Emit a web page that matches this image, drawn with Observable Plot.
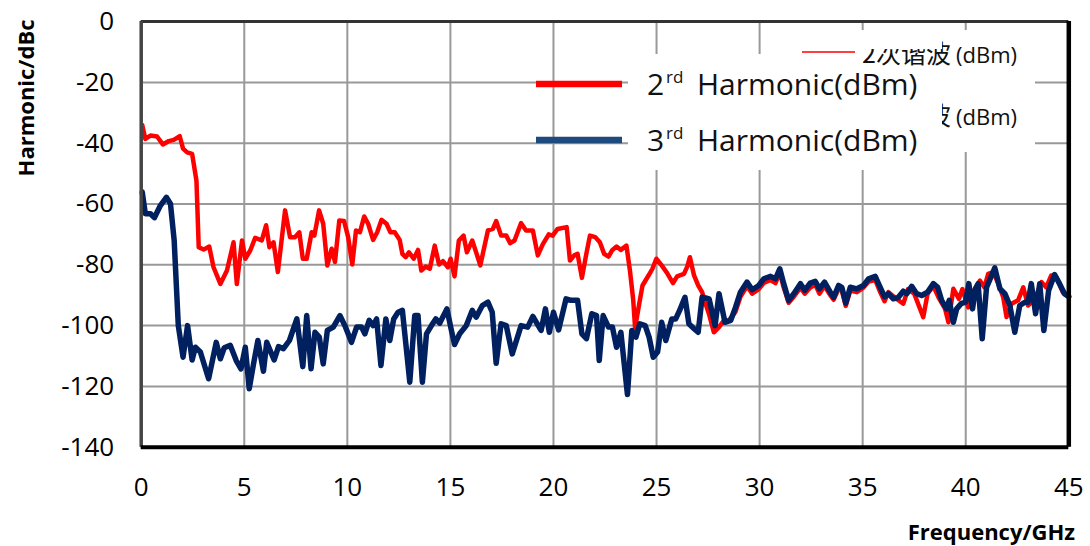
<!DOCTYPE html>
<html>
<head>
<meta charset="utf-8">
<script src="https://cdn.jsdelivr.net/npm/d3@7"></script>
<script src="https://cdn.jsdelivr.net/npm/@observablehq/plot@0.6"></script>
<style>
  html, body { margin: 0; padding: 0; background: #fff; }
  #chart svg { display: block; }
</style>
</head>
<body>
<div id="chart"></div>
<script>
// ---- data ----
const xTicks = [0, 5, 10, 15, 20, 25, 30, 35, 40, 45];
const yTicks = [0, -20, -40, -60, -80, -100, -120, -140];

const freq2 = [0.05,0.2,0.45,0.77,1.05,1.34,1.58,1.87,2.03,2.23,2.47,2.68,2.79,3.03,3.3,3.51,3.84,4.16,4.48,4.64,4.89,5.05,5.29,5.53,5.85,6.06,6.22,6.42,6.63,6.98,7.22,7.46,7.67,7.84,8.03,8.27,8.4,8.63,8.83,9.03,9.24,9.4,9.61,9.84,10.04,10.24,10.42,10.61,10.82,11.01,11.25,11.45,11.66,11.9,12.09,12.3,12.54,12.67,12.83,12.99,13.22,13.43,13.59,13.8,14.0,14.24,14.45,14.64,14.88,15.01,15.2,15.41,15.64,15.8,16.06,16.25,16.45,16.82,17.06,17.22,17.46,17.71,17.9,18.11,18.43,18.67,19.0,19.24,19.48,19.77,19.96,20.2,20.64,20.8,21.01,21.17,21.38,21.58,21.77,22.03,22.25,22.46,22.67,22.86,23.06,23.27,23.54,23.71,23.87,23.96,24.19,24.32,24.64,24.8,24.99,25.25,25.52,25.8,26.0,26.33,26.49,26.62,26.82,27.02,27.21,27.38,27.54,27.78,28.03,28.27,28.51,28.83,29.07,29.39,29.64,29.96,30.2,30.53,30.77,30.98,31.17,31.41,31.66,31.98,32.19,32.46,32.7,32.9,33.15,33.43,33.59,33.83,33.99,34.18,34.4,34.72,35.04,35.29,35.61,35.85,36.06,36.25,36.6,36.97,37.2,37.5,37.94,38.15,38.43,38.7,39.0,39.16,39.4,39.67,39.84,40.12,40.4,40.69,40.9,41.09,41.33,41.58,41.82,41.98,42.22,42.54,42.79,43.02,43.35,43.68,43.9,44.15,44.39,44.71,45.0];
const harm2 = [-34,-38.6,-37.5,-37.8,-40.4,-39.3,-38.9,-37.7,-41.8,-43,-43.5,-52.3,-74.2,-75,-74,-80.8,-86.3,-81.9,-72.6,-86.3,-72,-78,-75.3,-71.1,-72,-67,-74.2,-72.6,-82.4,-62.1,-70.9,-70.9,-69.3,-78,-78,-69.3,-70.4,-62.1,-66.5,-80.2,-74.7,-79.1,-65.4,-65.6,-70.9,-79.9,-68.7,-69.3,-64.1,-66.5,-71.8,-69.3,-65.2,-66.5,-69.3,-69.3,-71.8,-76.4,-77.5,-75.9,-78,-75.1,-81.9,-80.6,-81.3,-73.7,-79.9,-78.8,-80.8,-78,-83.8,-72,-70.4,-75.9,-72,-75.9,-80.2,-68.7,-68.2,-65.6,-70.4,-70.4,-72.9,-72,-66.3,-68.7,-68.7,-76.9,-73.3,-70,-70.4,-68.2,-67.6,-78.6,-76.9,-76.4,-84.3,-76.9,-70.4,-70.9,-72.6,-76.4,-77.3,-75.1,-74,-75.1,-73.7,-81.9,-91.7,-100.7,-91.7,-86.8,-83.2,-81.3,-78,-80.2,-82.8,-86,-83.8,-83,-80.6,-77.5,-83.5,-86.8,-89,-92.8,-96.1,-102.2,-100.5,-98.3,-98.3,-95.5,-90.5,-87,-89.5,-88,-86,-85,-86,-82.5,-87.5,-92.5,-90.5,-87.5,-89.5,-87.5,-86.5,-89.5,-87,-90,-91.5,-88,-88.5,-93.5,-88.5,-89,-87.5,-85.5,-85,-89,-92,-89,-91,-92.8,-88,-89.5,-97.2,-89.5,-87,-91,-94.5,-98.9,-87.9,-91.2,-88,-94,-88.5,-85.2,-87.4,-83,-82.4,-86.2,-90.7,-97.2,-92.8,-91.7,-87.4,-93.4,-91.2,-85.7,-87.4,-83.5,-84.1,-89,-90];

const freq3 = [0.05,0.2,0.45,0.64,0.93,1.22,1.42,1.6,1.8,2.03,2.25,2.47,2.63,2.87,3.27,3.64,3.84,4.03,4.32,4.61,4.84,5.05,5.24,5.45,5.66,5.93,6.09,6.45,6.66,6.9,7.19,7.55,7.84,8.03,8.24,8.43,8.64,8.83,9.03,9.32,9.64,9.88,10.2,10.45,10.69,10.85,11.06,11.25,11.42,11.63,11.87,12.06,12.25,12.46,12.67,12.83,13.03,13.27,13.43,13.64,13.84,14.08,14.29,14.48,14.83,15.05,15.2,15.45,15.77,16.06,16.25,16.55,16.82,17.03,17.22,17.46,17.71,18.0,18.43,18.75,19.0,19.4,19.61,19.8,20.0,20.25,20.61,20.85,21.17,21.38,21.6,21.86,22.09,22.22,22.41,22.67,22.86,23.06,23.27,23.59,23.8,24.0,24.19,24.45,24.64,24.84,25.05,25.25,25.45,25.74,25.93,26.12,26.25,26.38,26.57,26.82,27.02,27.21,27.38,27.55,27.84,28.03,28.32,28.6,28.83,29.07,29.39,29.64,29.96,30.2,30.53,30.77,30.98,31.17,31.41,31.66,31.98,32.19,32.46,32.7,32.9,33.15,33.43,33.59,33.83,33.99,34.18,34.4,34.72,35.04,35.29,35.61,35.85,36.06,36.25,36.49,36.73,36.97,37.14,37.38,37.62,37.86,38.15,38.43,38.64,38.83,39.07,39.2,39.4,39.56,39.77,39.99,40.15,40.33,40.47,40.6,40.8,41.01,41.22,41.41,41.66,41.9,42.14,42.38,42.62,42.87,43.02,43.18,43.39,43.59,43.79,44.02,44.31,44.55,44.79,45.0];
const harm3 = [-56.1,-63.2,-63.2,-64.5,-60.5,-57.8,-59.9,-72,-100,-110.4,-100,-111.3,-107.1,-108.7,-117.5,-105.5,-110.9,-107.3,-106.5,-111.5,-114.2,-107.1,-120.8,-112.6,-104.9,-115,-105.5,-111.3,-106.9,-107.6,-104.9,-97.8,-113.5,-96.7,-114.2,-102.2,-103.8,-112.6,-101.6,-100.5,-96.7,-100,-105.5,-100.5,-100.5,-102.7,-98.3,-100,-97.8,-113.1,-97.8,-104.9,-97.8,-95.6,-95,-105.5,-118.6,-96.7,-96.7,-118.6,-102.7,-100,-97.8,-99.2,-94.5,-101.6,-106.2,-102.7,-100,-95,-97.2,-93.4,-92.3,-95.6,-112.4,-99.4,-100,-109.3,-100,-100.5,-97,-101.6,-94.5,-102.2,-95.6,-101.4,-91.2,-91.7,-91.7,-102.7,-104.3,-96.1,-96.7,-111.5,-96.7,-100.5,-100.5,-107.1,-102.2,-122.7,-101.6,-103.8,-99.4,-100,-103.8,-110.4,-108.7,-98.9,-104.9,-97.8,-97.8,-95,-92.8,-90.7,-99.4,-101,-102.2,-90.7,-90.9,-91.2,-100,-89.5,-98.9,-98.3,-94,-89,-85.7,-88.2,-86.8,-84.6,-83.8,-84.6,-81.3,-86.2,-91.7,-89.5,-86.2,-88.4,-86,-85.4,-87.9,-85.7,-89,-90.7,-86.8,-87.4,-92.6,-87.4,-87.9,-86.8,-84.6,-83.8,-87.4,-90.5,-89.5,-91.2,-90.7,-88.7,-89.5,-87.1,-89.5,-90.1,-89,-86.2,-87.4,-91.7,-94.5,-91.7,-98.9,-94.5,-92.8,-92.3,-86.2,-94.5,-87.9,-86.2,-104.3,-87.4,-84.1,-81,-87.9,-89.5,-93.4,-102.2,-93.4,-92.3,-92.3,-86.2,-96.1,-86.2,-101.6,-88.5,-83.2,-86.2,-89.5,-90.5];

const seriesNames = ["2rd Harmonic(dBm)", "3rd Harmonic(dBm)"];
const hiddenNames = ["2次谐波(dBm)", "3次谐波(dBm)"];
const xTitle = "Frequency/GHz";
const yTitle = "Harmonic/dBc";

const rows2 = freq2.map((f, i) => ({f, v: harm2[i]}));
const rows3 = freq3.map((f, i) => ({f, v: harm3[i]}));

const W = 1090, H = 546;
const mL = 140.7, mR = 21.7, mT = 21.1, mB = 99.3;
const FONT = "'Open Sans', 'Noto Sans', sans-serif";

const chart = Plot.plot({
  width: W, height: H,
  marginLeft: mL, marginRight: mR, marginTop: mT, marginBottom: mB,
  style: {fontFamily: FONT, fontSize: "26px", color: "#000", background: "#fff", overflow: "visible"},
  x: {domain: [0, 45], label: null},
  y: {domain: [-140, 0], label: null},
  marks: [
    Plot.gridX(xTicks, {stroke: "#999", strokeWidth: 2, strokeOpacity: 1}),
    Plot.gridY(yTicks, {stroke: "#999", strokeWidth: 2, strokeOpacity: 1}),
    Plot.axisX(xTicks, {tickSize: 0, tickPadding: 30, fontSize: 26, tickFormat: d => String(d)}),
    Plot.axisY(yTicks, {tickSize: 0, tickPadding: 27, fontSize: 26, tickFormat: d => String(d)}),
    Plot.line(rows2, {x: "f", y: "v", stroke: "#ff0000", strokeWidth: 4.5, strokeLinejoin: "round", strokeLinecap: "round"}),
    Plot.line(rows3, {x: "f", y: "v", stroke: "#002060", strokeWidth: 5.5, strokeLinejoin: "round", strokeLinecap: "round"}),
    // frame edges
    Plot.ruleY([0], {stroke: "#333", strokeWidth: 3}),
    Plot.ruleX([0], {stroke: "#444", strokeWidth: 3.5}),
    Plot.ruleY([-140], {stroke: "#000", strokeWidth: 4}),
    Plot.ruleX([45], {stroke: "#000", strokeWidth: 4.5})
  ]
});

document.getElementById("chart").appendChild(chart);
const svg = d3.select(chart);

// axis titles
svg.append("text")
  .attr("transform", "translate(34,98) rotate(-90)")
  .attr("text-anchor", "middle")
  .style("font-family", FONT).style("font-weight", "bold").style("font-size", "22px")
  .text(yTitle);
svg.append("text")
  .attr("x", 1075).attr("y", 540).attr("text-anchor", "end")
  .style("font-family", FONT).style("font-weight", "bold").style("font-size", "22px")
  .text(xTitle);

// original (mostly hidden) legend
const CJK = "'Noto Sans CJK SC', sans-serif";
svg.append("rect").attr("x", 795).attr("y", 30).attr("width", 240).attr("height", 122).attr("fill", "#fff");
svg.append("line").attr("x1", 802).attr("x2", 855).attr("y1", 52).attr("y2", 52).attr("stroke", "#ff0000").attr("stroke-width", 1.5);
const hiddenY = [63, 125];
hiddenNames.forEach((name, i) => {
  const cut = name.indexOf("(");
  const t = svg.append("text").attr("x", 862).attr("y", hiddenY[i]).attr("text-anchor", "start").attr("fill", "#111");
  t.append("tspan").style("font-family", CJK).style("font-size", "25px").text(name.slice(0, cut));
  t.append("tspan").attr("x", 956).style("font-family", FONT).style("font-size", "22px").text(name.slice(cut));
});
svg.append("rect").attr("x", 855).attr("y", 30).attr("width", 87).attr("height", 19).attr("fill", "#fff");

// overlay legend box
svg.append("rect").attr("x", 628).attr("y", 54).attr("width", 234).attr("height", 116).attr("fill", "#fff");
svg.append("rect").attr("x", 862).attr("y", 67).attr("width", 80).attr("height", 103).attr("fill", "#fff");

const legendColors = ["#ff0000", "#1f4a7e"];
const legendY = [84, 140];
const baseY = [95, 151];
[0, 1].forEach(i => {
  svg.append("line").attr("x1", 536).attr("x2", 622).attr("y1", legendY[i]).attr("y2", legendY[i])
    .attr("stroke", legendColors[i]).attr("stroke-width", 6.5);
  const g = svg.append("g").attr("text-anchor", "start")
    .style("font-family", FONT).attr("fill", "#111");
  g.append("text").attr("x", 647).attr("y", baseY[i]).style("font-size", "30px").text(seriesNames[i].slice(0, 1));
  g.append("text").attr("x", 666).attr("y", baseY[i] - 12).style("font-size", "17px").text(seriesNames[i].slice(1, 3));
  g.append("text").attr("x", 697).attr("y", baseY[i]).style("font-size", "30px").text(seriesNames[i].slice(4));
});
</script>
</body>
</html>
